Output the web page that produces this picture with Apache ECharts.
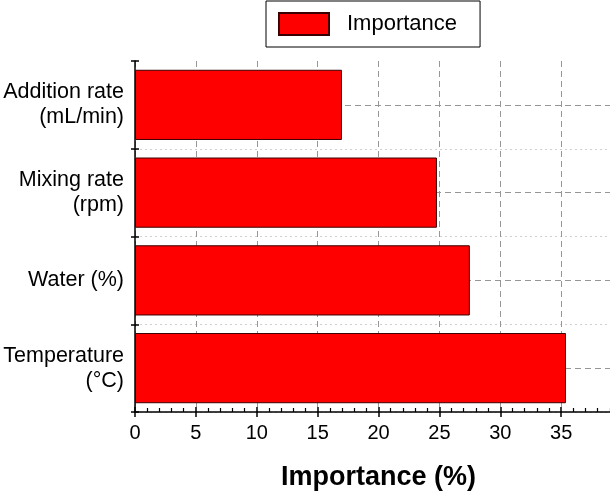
<!DOCTYPE html>
<html>
<head>
<meta charset="utf-8">
<script src="https://cdn.jsdelivr.net/npm/echarts@6/dist/echarts.min.js"></script>
<style>html,body{margin:0;padding:0;background:#fff;}#c{width:610px;height:491px;}</style>
</head>
<body>
<div id="c"></div>
<script>
var categories = ['Addition rate\n(mL/min)', 'Mixing rate\n(rpm)', 'Water (%)', 'Temperature\n(\u00b0C)'];
var importance = [17.0, 24.8, 27.5, 35.4];
var seriesName = 'Importance';
var xAxisName = 'Importance (%)';

var FONT = '"Liberation Sans", Arial, sans-serif';
var chart = echarts.init(document.getElementById('c'), null, {renderer: 'canvas'});
var gridLine = {color: '#969696', width: 1, type: [6, 4]};

chart.setOption({
  animation: false,
  textStyle: {fontFamily: FONT},
  grid: {left: 135, width: 487, top: 61, bottom: 79, containLabel: false, outerBoundsMode: 'none'},
  legend: {
    data: [seriesName],
    left: 266, top: 1,
    icon: 'rect',
    itemWidth: 50, itemHeight: 22,
    borderColor: '#000', borderWidth: 1,
    padding: [11, 23, 11, 12],
    textStyle: {fontSize: 22, color: '#000', fontFamily: FONT, padding: [0, 0, 0, 13]}
  },
  xAxis: [{
    type: 'value', min: 0, max: 40, interval: 5,
    name: xAxisName, nameLocation: 'middle', nameGap: 52,
    nameTextStyle: {fontSize: 27, fontWeight: 'bold', color: '#000', fontFamily: FONT},
    axisLine: {show: true, lineStyle: {color: '#000', width: 1.5}},
    axisTick: {show: true, inside: true, length: 5, lineStyle: {color: '#000', width: 1.5}},
    minorTick: {show: true, splitNumber: 5, length: 4, lineStyle: {color: '#000', width: 1.2}},
    axisLabel: {fontSize: 20, color: '#000', margin: 11, fontFamily: FONT, showMaxLabel: false,
      formatter: function (v) { return v % 5 === 0 && v < 40 ? String(v) : ''; }},
    splitLine: {show: true, lineStyle: gridLine}
  }, {
    type: 'value', min: 0, max: 40, interval: 5, position: 'bottom',
    axisLine: {show: false},
    axisTick: {show: true, inside: false, length: 5, lineStyle: {color: '#000', width: 1.5}},
    axisLabel: {show: false},
    splitLine: {show: false}
  }],
  yAxis: [{
    type: 'category', data: categories, inverse: true,
    axisLine: {show: true, lineStyle: {color: '#000', width: 1.5}},
    axisTick: {show: true, inside: false, length: 4, lineStyle: {color: '#000', width: 1.5}},
    axisLabel: {fontSize: 21.5, lineHeight: 25, color: '#000', margin: 11, align: 'right', fontFamily: FONT},
    splitLine: {show: true, interval: function (i) { return i !== 0; },
      lineStyle: {color: '#d0d0d0', width: 1, type: [2, 3]}}
  }, {
    type: 'category', data: categories, inverse: true, position: 'left',
    axisLine: {show: false},
    axisTick: {show: true, inside: true, length: 4, lineStyle: {color: '#000', width: 1.5}},
    axisLabel: {show: false},
    splitLine: {show: false}
  }],
  series: [{
    name: seriesName,
    type: 'bar',
    z: 3,
    xAxisIndex: 0, yAxisIndex: 0,
    data: importance,
    barCategoryGap: '20%',
    itemStyle: {color: '#ff0000', borderColor: '#3a0000', borderWidth: 1}
  }, {
    name: 'centerLines',
    type: 'line',
    z: 1,
    xAxisIndex: 0, yAxisIndex: 0,
    data: [],
    silent: true,
    markLine: {
      z: 1,
      silent: true, symbol: 'none', label: {show: false},
      lineStyle: gridLine,
      data: categories.map(function (c) { return {yAxis: c}; })
    }
  }]
});
</script>
</body>
</html>
